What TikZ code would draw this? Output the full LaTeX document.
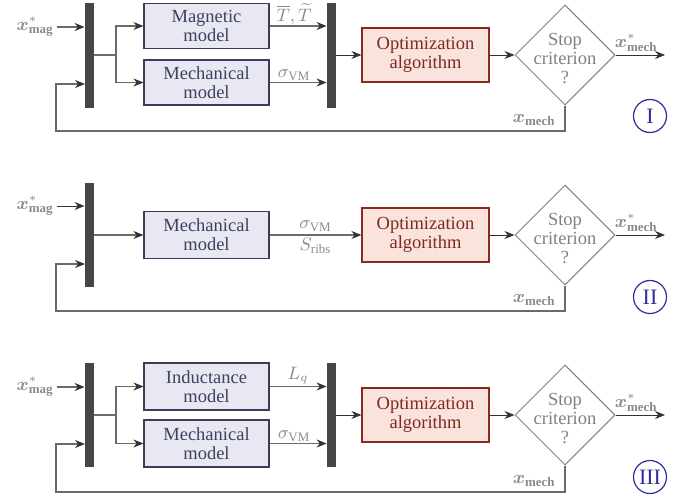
\documentclass[tikz,border=0pt]{standalone}
\usepackage{amsmath,bm}
\usepackage{fontspec}
\setmainfont{Liberation Serif}
\newfontfamily\figserif{Liberation Serif}
\usetikzlibrary{arrows.meta,shapes.geometric,calc}
\definecolor{modelfill}{HTML}{E8E8F2}
\definecolor{modeldraw}{HTML}{3C3C5C}
\definecolor{modeltext}{HTML}{404060}
\definecolor{optfill}{HTML}{FAE3DC}
\definecolor{optdraw}{HTML}{8B2A1C}
\definecolor{opttext}{HTML}{7E2A20}
\definecolor{barcol}{HTML}{464646}
\definecolor{linecol}{HTML}{6A6A6A}
\definecolor{tipcol}{HTML}{333333}
\definecolor{labcol}{HTML}{8A8A8A}
\definecolor{diacol}{HTML}{808080}
\definecolor{circcol}{HTML}{2E2E9E}
\tikzset{
  txt/.style={font=\figserif\fontsize{9.25}{9.5}\selectfont},
  model/.style={txt, draw=modeldraw, fill=modelfill, text=modeltext, line width=0.6pt,
    minimum width=62.5pt, align=center, inner sep=0pt},
  optbox/.style={txt, draw=optdraw, fill=optfill, text=opttext, line width=0.6pt,
    minimum width=63.5pt, minimum height=27pt, align=center, inner sep=0pt},
  bar/.style={fill=barcol, draw=none, minimum width=4.5pt, inner sep=0pt},
  lab/.style={txt, text=labcol, inner sep=1.5pt},
  line/.style={draw=linecol, line width=0.6pt},
  arr/.style={line, -{Stealth[length=5pt,width=4pt,color=tipcol]}},
  darr/.style={draw=tipcol, line width=0.5pt, -{Stealth[length=5pt,width=4pt,color=tipcol]}},
  dia/.style={diamond, draw=diacol, line width=0.5pt, minimum width=50pt, minimum height=50pt, inner sep=0pt},
  diatext/.style={txt, text=diacol, align=center, inner sep=0pt, yshift=-1.8pt},
  circ/.style={circle, draw=circcol, text=circcol, line width=0.6pt, minimum size=16.5pt,
    inner sep=0pt, font=\figserif\fontsize{11}{11}\selectfont},
}
\begin{document}
\begin{tikzpicture}[x=0.5pt, y=-0.5pt]
\useasboundingbox (0,0) rectangle (686,498);

% ---------- Panel I ----------
\node[bar, minimum height=52.5pt] (bL1) at (89.5,55.5) {};
\node[lab, anchor=east] (xin1) at (57,27) {$\bm{x}^*_{\mathbf{mag}}$};
\node[model, minimum height=22.5pt] (mag1) at (206.5,26) {Magnetic\\model};
\node[model, minimum height=22.5pt] (mech1) at (206.5,82.5) {Mechanical\\model};
\node[bar, minimum height=52.5pt] (bR1) at (331.5,55.5) {};
\node[optbox] (opt1) at (425.5,55) {Optimization\\algorithm};
\node[dia] (dia1) at (565,55) {};
\node[diatext] (st1) at (dia1) {Stop\\criterion\\?};
\coordinate (sp1) at (116,55);
\coordinate (out1) at (665,55);
\coordinate (fbA1) at (56,131);
\coordinate (fbB1) at (85,84);
\draw[arr] (xin1.east) -- (xin1.east -| bL1.west);
\draw[line] (bL1.east |- sp1) -- (sp1);
\draw[arr] (sp1) |- (mag1.west);
\draw[arr] (sp1) |- (mech1.west);
\draw[arr] (mag1.east) -- node[lab, above, inner sep=0.3pt, xshift=-2pt] {$\overline{T},\widetilde{T}$} (mag1.east -| bR1.west);
\draw[arr] (mech1.east) -- node[lab, above, inner sep=0.8pt, xshift=-2pt] {$\sigma_{\mathrm{VM}}$} (mech1.east -| bR1.west);
\draw[darr] (bR1.east |- opt1.west) -- (opt1.west);
\draw[darr] (opt1.east) -- (dia1.west);
\draw[darr] (dia1.east) -- node[lab, above, xshift=-2pt] {$\bm{x}^*_{\mathbf{mech}}$} (out1);
\draw[arr] (dia1.south) |- (fbA1) |- (fbB1);
\node[lab, anchor=east] (xm1) at (559,120) {$\bm{x}_{\mathbf{mech}}$};
\node[circ] (c1) at (650,116) {I};

% ---------- Panel II ----------
\node[bar, minimum height=52pt] (bL2) at (89.5,235) {};
\node[lab, anchor=east] (xin2) at (57,206) {$\bm{x}^*_{\mathbf{mag}}$};
\node[model, minimum height=23.5pt] (mech2) at (206.5,235) {Mechanical\\model};
\node[optbox] (opt2) at (425.5,235) {Optimization\\algorithm};
\node[dia] (dia2) at (565,235) {};
\node[diatext] (st2) at (dia2) {Stop\\criterion\\?};
\coordinate (out2) at (665,235);
\coordinate (fbA2) at (56,311);
\coordinate (fbB2) at (85,264);
\draw[darr] (xin2.east) -- (xin2.east -| bL2.west);
\draw[arr] (bL2.east |- mech2.west) -- (mech2.west);
\draw[arr] (mech2.east) -- node[lab, above] {$\sigma_{\mathrm{VM}}$} node[lab, below] {$S_{\mathrm{ribs}}$} (opt2.west);
\draw[darr] (opt2.east) -- (dia2.west);
\draw[darr] (dia2.east) -- node[lab, above, xshift=-2pt] {$\bm{x}^*_{\mathbf{mech}}$} (out2);
\draw[arr] (dia2.south) |- (fbA2) |- (fbB2);
\node[lab, anchor=east] (xm2) at (559,300) {$\bm{x}_{\mathbf{mech}}$};
\node[circ] (c2) at (650,297) {II};

% ---------- Panel III ----------
\node[bar, minimum height=52pt] (bL3) at (89.5,415) {};
\node[lab, anchor=east] (xin3) at (57,387) {$\bm{x}^*_{\mathbf{mag}}$};
\node[model, minimum height=23.5pt] (ind3) at (206.5,386.5) {Inductance\\model};
\node[model, minimum height=23.5pt] (mech3) at (206.5,443.5) {Mechanical\\model};
\node[bar, minimum height=52pt] (bR3) at (331.5,415) {};
\node[optbox] (opt3) at (425.5,415) {Optimization\\algorithm};
\node[dia] (dia3) at (565,415) {};
\node[diatext] (st3) at (dia3) {Stop\\criterion\\?};
\coordinate (sp3) at (116,415);
\coordinate (out3) at (665,415);
\coordinate (fbA3) at (56,492);
\coordinate (fbB3) at (85,444);
\draw[arr] (xin3.east) -- (xin3.east -| bL3.west);
\draw[line] (bL3.east |- sp3) -- (sp3);
\draw[arr] (sp3) |- (ind3.west);
\draw[arr] (sp3) |- (mech3.west);
\draw[arr] (ind3.east) -- node[lab, above, inner sep=0.8pt] {$L_q$} (ind3.east -| bR3.west);
\draw[arr] (mech3.east) -- node[lab, above, inner sep=0.8pt, xshift=-2pt] {$\sigma_{\mathrm{VM}}$} (mech3.east -| bR3.west);
\draw[darr] (bR3.east |- opt3.west) -- (opt3.west);
\draw[darr] (opt3.east) -- (dia3.west);
\draw[darr] (dia3.east) -- node[lab, above, xshift=-2pt] {$\bm{x}^*_{\mathbf{mech}}$} (out3);
\draw[arr] (dia3.south) |- (fbA3) |- (fbB3);
\node[lab, anchor=east] (xm3) at (559,481) {$\bm{x}_{\mathbf{mech}}$};
\node[circ] (c3) at (650,477) {III};
\end{tikzpicture}
\end{document}
